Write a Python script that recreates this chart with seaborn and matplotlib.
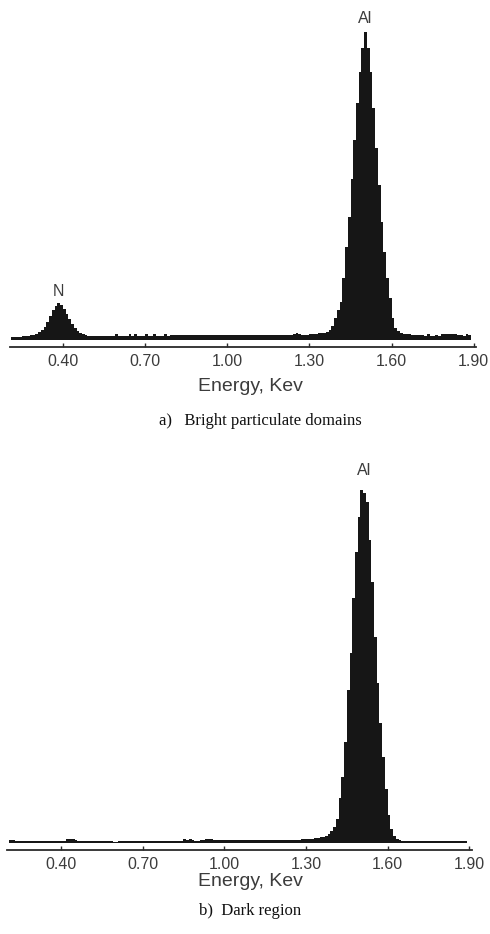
import numpy as np
import matplotlib
matplotlib.use("Agg")
import matplotlib.pyplot as plt
import seaborn as sns

# ---- data: channel left edges (keV) and counts ----
energy = [
    0.21, 0.22, 0.23, 0.24, 0.25, 0.26, 0.27, 0.28, 0.29, 0.30,
    0.31, 0.32, 0.33, 0.34, 0.35, 0.36, 0.37, 0.38, 0.39, 0.40,
    0.41, 0.42, 0.43, 0.44, 0.45, 0.46, 0.47, 0.48, 0.49, 0.50,
    0.51, 0.52, 0.53, 0.54, 0.55, 0.56, 0.57, 0.58, 0.59, 0.60,
    0.61, 0.62, 0.63, 0.64, 0.65, 0.66, 0.67, 0.68, 0.69, 0.70,
    0.71, 0.72, 0.73, 0.74, 0.75, 0.76, 0.77, 0.78, 0.79, 0.80,
    0.81, 0.82, 0.83, 0.84, 0.85, 0.86, 0.87, 0.88, 0.89, 0.90,
    0.91, 0.92, 0.93, 0.94, 0.95, 0.96, 0.97, 0.98, 0.99, 1.00,
    1.01, 1.02, 1.03, 1.04, 1.05, 1.06, 1.07, 1.08, 1.09, 1.10,
    1.11, 1.12, 1.13, 1.14, 1.15, 1.16, 1.17, 1.18, 1.19, 1.20,
    1.21, 1.22, 1.23, 1.24, 1.25, 1.26, 1.27, 1.28, 1.29, 1.30,
    1.31, 1.32, 1.33, 1.34, 1.35, 1.36, 1.37, 1.38, 1.39, 1.40,
    1.41, 1.42, 1.43, 1.44, 1.45, 1.46, 1.47, 1.48, 1.49, 1.50,
    1.51, 1.52, 1.53, 1.54, 1.55, 1.56, 1.57, 1.58, 1.59, 1.60,
    1.61, 1.62, 1.63, 1.64, 1.65, 1.66, 1.67, 1.68, 1.69, 1.70,
    1.71, 1.72, 1.73, 1.74, 1.75, 1.76, 1.77, 1.78, 1.79, 1.80,
    1.81, 1.82, 1.83, 1.84, 1.85, 1.86, 1.87, 1.88,
]
channel_width = 0.01

counts_bright = [
    3, 3, 3, 3, 4, 4, 4, 5, 5, 6,
    8, 10, 13, 18, 24, 30, 34, 37, 35, 31,
    26, 21, 16, 12, 9, 7, 6, 5, 4, 4,
    4, 4, 4, 4, 4, 4, 4, 4, 6, 4,
    4, 4, 4, 6, 4, 6, 4, 4, 4, 6,
    4, 4, 6, 4, 4, 4, 6, 4, 5, 5,
    5, 5, 5, 5, 5, 5, 5, 5, 5, 5,
    5, 5, 5, 5, 5, 5, 5, 5, 5, 5,
    5, 5, 5, 5, 5, 5, 5, 5, 5, 5,
    5, 5, 5, 5, 5, 5, 5, 5, 5, 5,
    5, 5, 5, 6, 7, 6, 5, 5, 5, 6,
    6, 6, 7, 7, 7, 8, 10, 14, 22, 30,
    38, 62, 93, 123, 161, 200, 237, 268, 292, 308,
    292, 268, 232, 192, 155, 118, 88, 62, 42, 22,
    12, 9, 7, 6, 6, 6, 5, 5, 5, 5,
    5, 4, 6, 4, 4, 5, 4, 6, 6, 6,
    6, 6, 6, 5, 5, 4, 6, 5,
]

counts_dark = [
    3, 3, 2, 2, 2, 2, 2, 2, 2, 2,
    2, 2, 2, 2, 2, 2, 2, 2, 2, 2,
    2, 4, 4, 4, 3, 2, 2, 2, 2, 2,
    2, 2, 2, 2, 2, 2, 2, 2, 1, 1,
    2, 2, 2, 2, 2, 2, 2, 2, 2, 2,
    2, 2, 2, 2, 2, 2, 2, 2, 2, 2,
    2, 2, 2, 2, 4, 3, 4, 3, 2, 2,
    3, 3, 4, 4, 4, 3, 3, 3, 3, 3,
    3, 3, 3, 3, 3, 3, 3, 3, 3, 3,
    3, 3, 3, 3, 3, 3, 3, 3, 3, 3,
    3, 3, 3, 3, 3, 3, 3, 4, 4, 4,
    4, 4, 5, 5, 6, 6, 7, 9, 12, 16,
    24, 45, 66, 101, 153, 190, 245, 291, 326, 353,
    350, 341, 303, 261, 206, 160, 120, 86, 54, 28,
    14, 7, 4, 3, 2, 2, 2, 2, 2, 2,
    2, 2, 2, 2, 2, 2, 2, 2, 2, 2,
    2, 2, 2, 2, 2, 2, 2, 2,
]

tick_values = [0.40, 0.70, 1.00, 1.30, 1.60, 1.90]
tick_labels = ["0.40", "0.70", "1.00", "1.30", "1.60", "1.90"]

peak_labels_bright = [("N", 0.385, 48), ("Al", 1.505, 321)]
peak_labels_dark = [("Al", 1.512, 372)]

captions = ["a)   Bright particulate domains", "b)  Dark region"]
xlabel = "Energy, Kev"

# ---- style ----
sns.set_theme(style="white")
plt.rcParams["font.family"] = ["Liberation Sans", "DejaVu Sans"]

W, H = 490, 934
fig = plt.figure(figsize=(W / 100, H / 100), dpi=100)

fill_color = "#161616"
text_color = "#3c3c3c"

edges = list(energy) + [energy[-1] + channel_width]
centers = [e + channel_width / 2 for e in energy]


def panel(rect_px, xlim, ylim, counts, labels, caption, label_top_px, caption_px):
    x0, x1, ytop, ybot = rect_px
    ax = fig.add_axes([x0 / W, 1 - ybot / H, (x1 - x0) / W, (ybot - ytop) / H])
    sns.histplot(x=centers, weights=counts, bins=edges, element="step",
                 fill=True, color=fill_color, alpha=1, linewidth=0, ax=ax)
    ax.set_xlim(*xlim)
    ax.set_ylim(*ylim)
    for s in ("top", "left", "right"):
        ax.spines[s].set_visible(False)
    ax.spines["bottom"].set_color("#2a2a2a")
    ax.spines["bottom"].set_linewidth(1.3)
    ax.set_yticks([])
    ax.set_ylabel("")
    ax.set_xticks(tick_values)
    ax.set_xticklabels(tick_labels)
    ax.tick_params(axis="x", direction="in", length=3, width=1,
                   color="#2a2a2a", labelcolor=text_color, labelsize=11.5, pad=5,
                   bottom=True)
    ax.set_xlabel(xlabel, fontsize=14, color=text_color)
    ax.xaxis.set_label_coords(((250 - x0) / (x1 - x0)),
                              -(label_top_px - ybot) / (ybot - ytop))
    for txt, xv, yv in labels:
        ax.text(xv, yv, txt, ha="center", va="center", fontsize=11.5,
                color=text_color)
    fig.text(caption_px[0] / W, 1 - caption_px[1] / H, caption,
             family=["Liberation Serif", "DejaVu Serif"], fontsize=12,
             ha="center", va="center", color="#111111")
    return ax


panel((10, 476, 10, 347), (0.2073, 1.908), (-7, 330), counts_bright,
      peak_labels_bright, captions[0], 378, (260, 421))
panel((7, 472, 460, 850), (0.2016, 1.91), (-7, 383), counts_dark,
      peak_labels_dark, captions[1], 873, (250, 911))

fig.savefig("out.png", dpi=100)
